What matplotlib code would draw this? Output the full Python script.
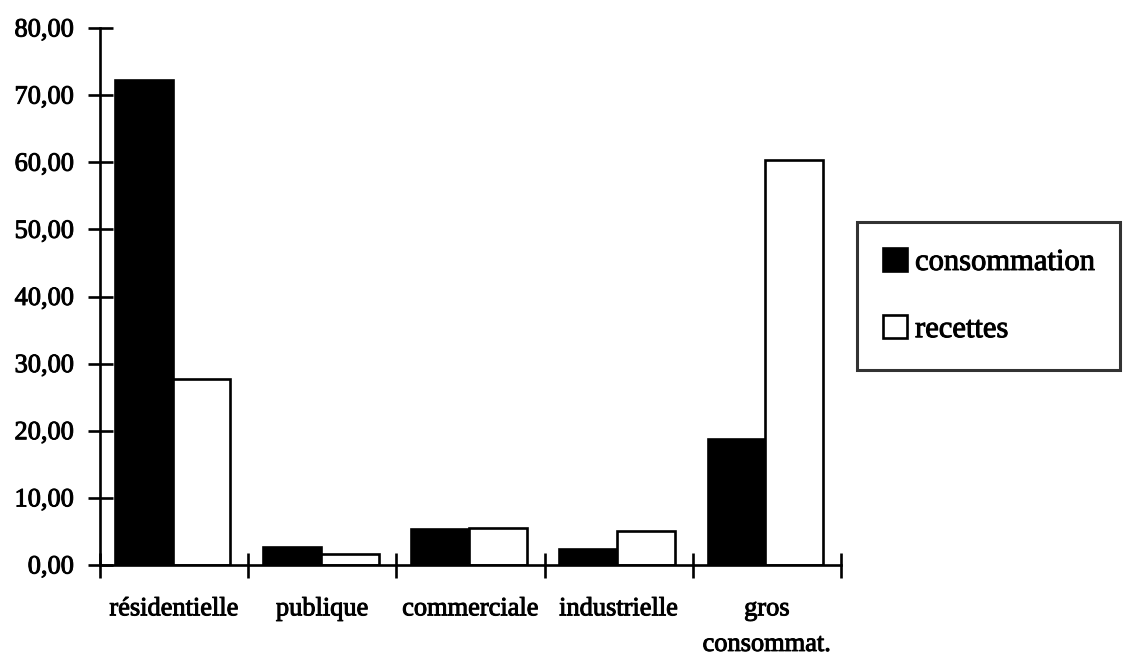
"""Consommation vs recettes par catégorie de clientèle (barres noires / blanches)."""

import matplotlib

matplotlib.use("Agg")
import matplotlib.patheffects as pe
import matplotlib.pyplot as plt
import numpy as np
from matplotlib.patches import Patch

CATEGORIES = ["résidentielle", "publique", "commerciale", "industrielle", "gros\nconsommat."]
CONSOMMATION = [72.2, 2.7, 5.3, 2.4, 18.7]
RECETTES = [27.7, 1.6, 5.5, 5.1, 60.3]
Y_TICKS = [0, 10, 20, 30, 40, 50, 60, 70, 80]

FONT = "Liberation Serif"
FS = 19
LEG_FS = 22
LW = 1.9
# the original is a scan: strokes look a bit heavier than plain Times
HEAVY = [pe.withStroke(linewidth=0.7, foreground="black")]

fig = plt.figure(figsize=(11.3, 6.59), dpi=100)
ax = fig.add_axes([100 / 1130, 1 - 565 / 659, (841 - 100) / 1130, (565 - 28) / 659])

x = np.arange(len(CATEGORIES))
ax.bar(x + 0.10, CONSOMMATION, width=0.39, align="edge",
       color="black", edgecolor="black", lw=LW, zorder=3)
ax.bar(x + 0.49, RECETTES, width=0.39, align="edge",
       color="white", edgecolor="black", lw=LW, zorder=3)

ax.set_xlim(0, len(CATEGORIES))
ax.set_ylim(0, 80)

ax.set_yticks(Y_TICKS)
ax.set_yticklabels([f"{v:.2f}".replace(".", ",") for v in Y_TICKS],
                   family=FONT, fontsize=FS)
ax.set_xticks(np.arange(len(CATEGORIES) + 1))
ax.set_xticklabels([])
ax.set_xticks(x + 0.5, minor=True)
ax.set_xticklabels(CATEGORIES, minor=True, family=FONT, fontsize=FS,
                   linespacing=1.8, va="top")

ax.tick_params(axis="both", which="major", direction="inout", length=18,
               width=LW, color="black", pad=10)
ax.tick_params(axis="x", which="minor", length=0, pad=24)

for side in ("top", "right"):
    ax.spines[side].set_visible(False)
for side in ("left", "bottom"):
    ax.spines[side].set_linewidth(LW)
    ax.spines[side].set_zorder(4)

handles = [
    Patch(facecolor="black", edgecolor="black", lw=LW, label="consommation"),
    Patch(facecolor="white", edgecolor="black", lw=LW, label="recettes"),
]
leg = fig.legend(
    handles=handles,
    loc="upper left",
    bbox_to_anchor=(857 / 1130, 1 - 222 / 659),
    borderaxespad=0,
    prop={"family": FONT, "size": LEG_FS},
    frameon=True,
    fancybox=False,
    handlelength=0.8,
    handleheight=0.75,
    handletextpad=0.25,
    labelspacing=1.25,
    borderpad=0.85,
)
leg.get_frame().set_edgecolor("black")
leg.get_frame().set_linewidth(LW + 0.3)

texts = ax.get_yticklabels() + ax.get_xticklabels(minor=True) + leg.get_texts()
for t in texts:
    t.set_path_effects(HEAVY)

fig.savefig("out.png", dpi=100, facecolor="white")
